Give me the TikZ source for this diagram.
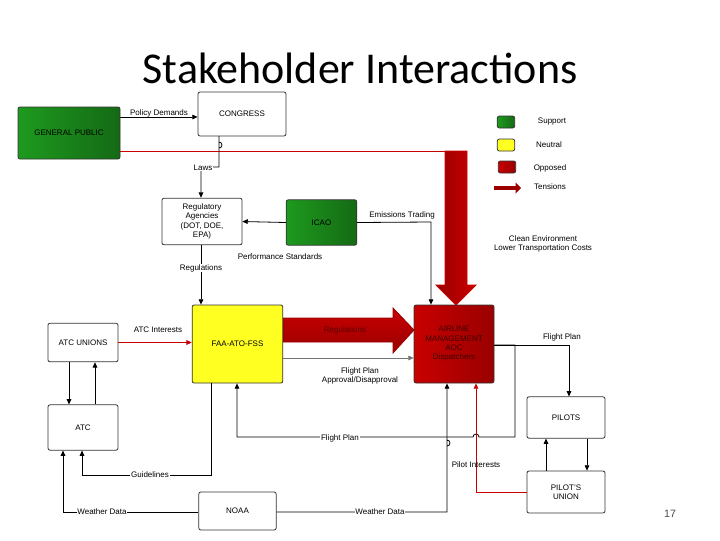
\documentclass[tikz,border=0pt]{standalone}
\usepackage{fontspec}
\setmainfont{Liberation Sans}
\newfontfamily\titlefont{Carlito}
\usetikzlibrary{arrows.meta}
\definecolor{gr}{HTML}{1E9A1E}
\definecolor{grd}{HTML}{146A14}
\definecolor{dr}{HTML}{9A0000}
\definecolor{rr}{HTML}{C80000}
\definecolor{yl}{HTML}{FFFF22}
\begin{document}
\begin{tikzpicture}[x=0.75pt,y=-0.75pt,
  box/.style={draw=black!80,rounded corners=1.5pt,line width=0.6pt,align=center,font=\fontsize{6}{7}\selectfont,inner sep=1pt},
  lbl/.style={font=\fontsize{6}{7}\selectfont,fill=white,inner sep=0.5pt,align=center},
  lbln/.style={font=\fontsize{6}{7}\selectfont,inner sep=0.5pt,align=center},
  ar/.style={-{Triangle[length=4pt,width=3.5pt]},line width=0.6pt},
  rar/.style={ar,draw=rr},
  gar/.style={ar,draw=black!55}]
\useasboundingbox (0,0) rectangle (720,540);
\node[font=\titlefont\fontsize{33}{36}\selectfont] (title) at (360,68) {Stakeholder Interactions};
% big tension arrows
\draw[line width=0.6pt,draw=rr,left color=dr,right color=rr]
  (445,151) -- (467,151) -- (467,285) -- (476,285) -- (456,305) -- (436,285) -- (445,285) -- cycle;
\draw[line width=0.6pt,draw=dr,top color=rr,bottom color=dr]
  (283,318) -- (393,318) -- (393,308) -- (414,330) -- (393,353) -- (393,342) -- (283,342) -- cycle;
\node[lbln,text=dr!60!black] (regt) at (345,330) {Regulations};
% nodes
\node[box,minimum width=76.5pt,minimum height=39pt,left color=gr,right color=grd] (gp) at (69,133) {GENERAL PUBLIC};
\node[box,minimum width=66pt,minimum height=33pt] (cong) at (242,114) {CONGRESS};
\node[box,minimum width=60pt,minimum height=35pt] (reg) at (202,221.5) {Regulatory\\Agencies\\(DOT, DOE,\\EPA)};
\node[box,minimum width=53pt,minimum height=34pt,left color=gr,right color=grd] (icao) at (321.5,222.5) {ICAO};
\node[box,minimum width=68pt,minimum height=58.5pt,fill=yl] (faa) at (237.5,344) {FAA-ATO-FSS};
\node[box,minimum width=60pt,minimum height=58.5pt,left color=rr,right color=dr,text=dr!40!black] (air) at (454,344) {AIRLINE\\MANAGEMENT\\AOC\\Dispatchers};
\node[box,minimum width=52.5pt,minimum height=29pt] (atcu) at (83,342.5) {ATC UNIONS};
\node[box,minimum width=52.5pt,minimum height=34pt] (atc) at (83,427.5) {ATC};
\node[box,minimum width=58pt,minimum height=28.5pt] (noaa) at (237.5,511) {NOAA};
\node[box,minimum width=58.5pt,minimum height=31pt] (pil) at (566,417.5) {PILOTS};
\node[box,minimum width=58.5pt,minimum height=31.5pt] (pu) at (566,492) {PILOT'S\\UNION};
% connectors
\draw[ar] (gp.east|-0,117) -- (cong.west|-0,117) node[lbln,midway,above=-1pt] {Policy Demands};
\draw[line width=0.6pt,draw=rr] (gp.east|-0,151) -- (445,151);
\draw[ar] (219,136) -- (219,148) arc[start angle=90,end angle=-90,radius=3] -- (219,167) -- (201,167) -- (reg.north-|201,0);
\node[lbl] (lawsl) at (203,168) {Laws};
\draw[ar] (icao.west) -- (reg.east);
\draw[ar] (icao.east) -- (431,222) -- (air.north-|431,0);
\node[lbln] (emis) at (402,215) {Emissions Trading};
\node[lbln] (perf) at (280,257) {Performance Standards};
\draw[ar] (reg.south-|201,0) -- (faa.north-|201,0);
\node[lbl] (regl) at (201,268) {Regulations};
\draw[gar] (faa.east|-0,358) -- (air.west|-0,358);
\node[lbln] (fpa) at (360,376) {Flight Plan\\Approval/Disapproval};
\draw[rar] (atcu.east) -- (faa.west|-atcu.east);
\node[lbln] (atci) at (158,330) {ATC Interests};
\draw[ar] (atcu.south-|69,0) -- (atc.north-|69,0);
\draw[ar] (atc.north-|95,0) -- (atcu.south-|95,0);
\draw[ar] (faa.south-|211,0) -- (211,475) -- (82,475) -- (atc.south-|82,0);
\node[lbl] (guid) at (150,475) {Guidelines};
\draw[ar] (noaa.west|-0,512) -- (63,512) -- (atc.south-|63,0);
\node[lbl] (wd1) at (102,512) {Weather Data};
\draw[ar] (noaa.east|-0,512) -- (447,512) -- (447,440) arc[start angle=-90,end angle=90,radius=3] -- (air.south-|447,0);
\node[lbl] (wd2) at (380,512) {Weather Data};
\draw[ar] (air.east|-0,345) -- (515,345) -- (515,437) -- (479,437) arc[start angle=0,end angle=-180,radius=3] -- (237,437) -- (faa.south-|237,0);
\node[lbl] (fpl) at (340,438) {Flight Plan};
\draw[ar] (air.east|-0,345) -- (569,345) -- (pil.north-|569,0);
\node[lbln] (fp2) at (562,337) {Flight Plan};
\draw[ar] (pil.south-|587,0) -- (pu.north-|587,0);
\draw[ar] (pu.north-|546,0) -- (pil.south-|546,0);
\draw[rar] (pu.west|-0,492) -- (476,492) -- (air.south-|476,0);
\node[lbln] (pint) at (476,465) {Pilot Interests};
% legend
\node[box,minimum width=13pt,minimum height=9pt,left color=gr,right color=grd] (lg) at (506,122) {};
\node[box,minimum width=13pt,minimum height=9pt,fill=yl] (ly) at (506,145) {};
\node[box,minimum width=13pt,minimum height=9pt,left color=rr,right color=dr] (lr) at (507,167) {};
\draw[line width=3pt,draw=dr,-{Triangle[length=4pt,width=8pt]}] (494,188) -- (521,188);
\node[lbln] (ls) at (552,122) {Support};
\node[lbln] (ln) at (549,145) {Neutral};
\node[lbln] (lo) at (550,168) {Opposed};
\node[lbln] (lt) at (550,187) {Tensions};
\node[lbln] (clean) at (543,244) {Clean Environment\\Lower Transportation Costs};
\node[font=\fontsize{8}{9}\selectfont,text=black!70] (pg) at (670,514) {17};
\end{tikzpicture}
\end{document}
